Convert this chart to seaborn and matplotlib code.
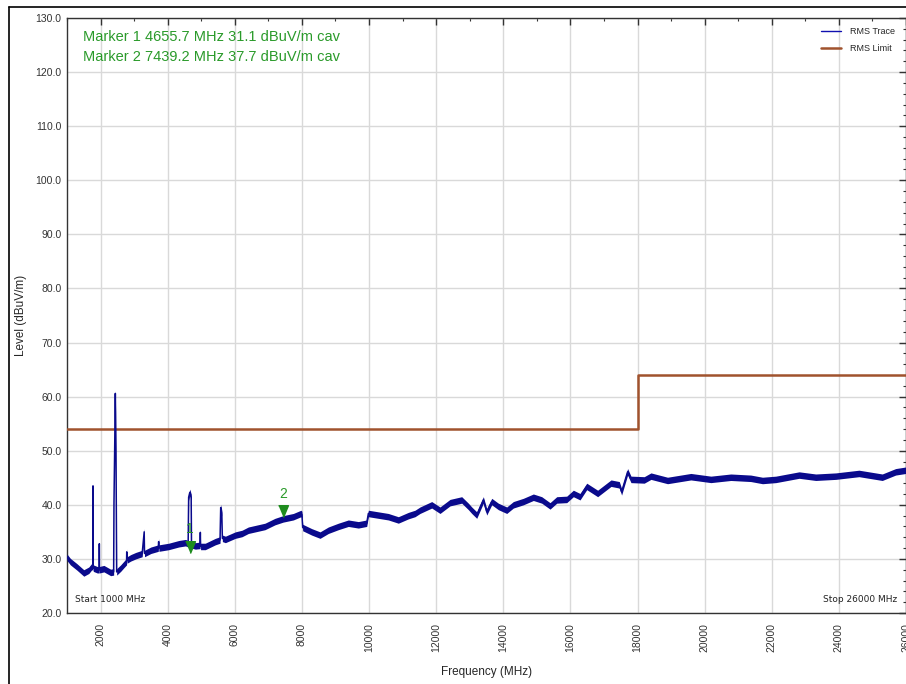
import numpy as np
import pandas as pd
import matplotlib
matplotlib.use("Agg")
import matplotlib.pyplot as plt
from matplotlib.lines import Line2D
import seaborn as sns

# ---------------- data ----------------
trace_freq = [1000, 1100, 1300, 1500, 1650, 1740, 1770, 1775, 1782, 1900, 1960, 1963, 1968,
              2100, 2300, 2390, 2400, 2420, 2440, 2460, 2480, 2600, 2700, 2775, 2780, 2790,
              2900, 3050, 3240, 3300, 3310, 3500, 3720, 3731, 3740, 4030, 4330, 4530, 4610,
              4625, 4660, 4700, 4710, 4824, 4965, 4973, 4980, 5120, 5420, 5560, 5580, 5610,
              5630, 5720, 6016, 6215, 6404, 6900, 7198, 7440, 7744, 7973, 8000, 8023, 8292,
              8540, 8787, 9085, 9383, 9681, 9930, 9980, 10277, 10575, 10873, 11171, 11370,
              11519, 11868, 12115, 12413, 12762, 12960, 13060, 13209, 13406, 13507, 13656,
              13853, 14103, 14300, 14598, 14896, 15146, 15393, 15593, 15891, 16088, 16287,
              16487, 16812, 17210, 17457, 17526, 17705, 17805, 18200, 18400, 18895, 19590,
              20186, 20780, 21376, 21724, 22122, 22815, 23311, 23906, 24600, 25293, 25692,
              26000]
trace_level = [30.3, 29.5, 28.5, 27.4, 27.9, 28.6, 28.5, 43.5, 28.3, 28.0, 28.0, 32.8, 28.0,
               28.2, 27.5, 27.6, 40.5, 50.0, 60.6, 50.0, 27.6, 28.3, 29.0, 29.5, 31.3, 29.8,
               30.2, 30.6, 31.0, 35.0, 31.0, 31.6, 32.0, 33.2, 32.0, 32.3, 32.8, 33.0, 32.8,
               41.4, 42.3, 41.4, 32.6, 32.4, 32.5, 34.9, 32.3, 32.3, 33.2, 33.5, 39.5, 38.5,
               33.8, 33.6, 34.4, 34.7, 35.3, 36.0, 36.9, 37.4, 37.8, 38.4, 38.2, 35.8, 35.0,
               34.4, 35.3, 36.0, 36.6, 36.3, 36.6, 38.4, 38.1, 37.8, 37.2, 38.0, 38.4,
               39.0, 40.0, 39.0, 40.4, 40.9, 39.7, 39.0, 38.1, 40.9, 38.7, 40.6,
               39.7, 39.0, 40.0, 40.6, 41.4, 40.9, 39.8, 40.9, 41.0, 42.1, 41.5,
               43.4, 42.1, 44.0, 43.7, 42.4, 46.1, 44.7, 44.6, 45.3, 44.5, 45.2,
               44.7, 45.1, 44.9, 44.5, 44.7, 45.5, 45.1, 45.3, 45.8, 45.1, 46.1,
               46.4]

limit_freq = [1000, 18000, 26000]
limit_level = [54.0, 64.0, 64.0]

marker_freq = [4655.7, 7439.2]
marker_level = [31.1, 37.7]
marker_names = ["1", "2"]

x_ticks = list(range(2000, 26001, 2000))
y_ticks = [20.0, 30.0, 40.0, 50.0, 60.0, 70.0, 80.0, 90.0, 100.0, 110.0, 120.0, 130.0]

# ---------------- styling ----------------
sns.set_style("white")
plt.rcParams["font.family"] = ["Liberation Sans", "DejaVu Sans"]

TRACE_C = "#0a0a8c"
LIMIT_C = "#a0522d"
GREEN_T = "#2a9a2a"
GREEN_M = "#1e8c1e"
BAND = 0.6  # visual half-thickness of the noisy trace band (dB)

fig = plt.figure(figsize=(9.06, 6.84), dpi=100)
ax = fig.add_axes([67 / 906, 71 / 684, 839 / 906, 595 / 684])

trace_df = pd.DataFrame({"freq": trace_freq, "level": trace_level})
limit_df = pd.DataFrame({"freq": limit_freq, "level": limit_level})

sns.lineplot(data=limit_df, x="freq", y="level", ax=ax, color=LIMIT_C, linewidth=1.8,
             estimator=None, sort=False, drawstyle="steps-post", zorder=3)
ax.fill_between(trace_df["freq"], trace_df["level"] - BAND, trace_df["level"] + BAND,
                color=TRACE_C, linewidth=0, zorder=4)
sns.lineplot(data=trace_df, x="freq", y="level", ax=ax, color=TRACE_C, linewidth=1.1,
             estimator=None, sort=False, zorder=4)

# markers: triangle with tip at the marker level
tri = [(-0.5, 1.2), (0.5, 1.2), (0.0, 0.0)]
for f, lv, nm in zip(marker_freq, marker_level, marker_names):
    ax.plot([f], [lv], marker=tri, markersize=17, color=GREEN_M, linestyle="none", zorder=6)
    ax.annotate(nm, (f, lv), xytext=(0, 12), textcoords="offset points", ha="center",
                va="bottom", color=GREEN_T, fontsize=10, zorder=6)

ax.set_xlim(1000, 26000)
ax.set_ylim(20, 130)
ax.set_xticks(x_ticks)
ax.set_xticklabels([str(t) for t in x_ticks], rotation=90, fontsize=7.5)
ax.set_yticks(y_ticks)
ax.set_yticklabels([f"{t:.1f}" for t in y_ticks], fontsize=7.5)
ax.set_xticks(list(range(1000, 26001, 1000)), minor=True)
ax.set_yticks(list(range(20, 131, 2)), minor=True)
ax.tick_params(which="both", direction="in", top=True, right=True, colors="#333333")
ax.tick_params(which="major", length=5, width=1)
ax.tick_params(which="minor", length=2.5, width=0.8)
ax.tick_params(axis="x", which="major", pad=7)
ax.tick_params(axis="y", which="major", pad=4)

ax.grid(True, which="major", color="#d9d9d9", linewidth=1.0)
ax.set_axisbelow(True)
for s in ax.spines.values():
    s.set_color("#333333")
    s.set_linewidth(1.0)

ax.set_xlabel("Frequency (MHz)", fontsize=8.5, labelpad=10)
ax.set_ylabel("Level (dBuV/m)", fontsize=8.5)
ax.yaxis.set_label_coords(-0.0475, 0.5)

ax.text(0.019, 0.968, "Marker 1 4655.7 MHz 31.1 dBuV/m cav", transform=ax.transAxes,
        color=GREEN_T, fontsize=10.5, va="center", ha="left")
ax.text(0.019, 0.934, "Marker 2 7439.2 MHz 37.7 dBuV/m cav", transform=ax.transAxes,
        color=GREEN_T, fontsize=10.5, va="center", ha="left")

ax.text(0.0095, 0.022, "Start 1000 MHz", transform=ax.transAxes, fontsize=6.5,
        va="center", ha="left", color="#222222", family=["DejaVu Sans"])
ax.text(0.990, 0.022, "Stop 26000 MHz", transform=ax.transAxes, fontsize=6.5,
        va="center", ha="right", color="#222222", family=["DejaVu Sans"])

handles = [Line2D([0], [0], color="#1010b0", lw=1.0),
           Line2D([0], [0], color=LIMIT_C, lw=1.8)]
leg = ax.legend(handles, ["RMS Trace", "RMS Limit"], loc="upper right",
                bbox_to_anchor=(0.995, 0.995), frameon=False, fontsize=6.5,
                handlelength=2.3, labelspacing=0.85, borderpad=0.2, handletextpad=1.0)

# outer frame lines of the original screenshot
fig.add_artist(Line2D([9 / 906, 9 / 906], [0, 1 - 7 / 684], color="black", lw=1.2,
                      transform=fig.transFigure))
fig.add_artist(Line2D([9 / 906, 1], [1 - 7 / 684, 1 - 7 / 684], color="black", lw=1.2,
                      transform=fig.transFigure))

fig.savefig("out.png", dpi=100)
